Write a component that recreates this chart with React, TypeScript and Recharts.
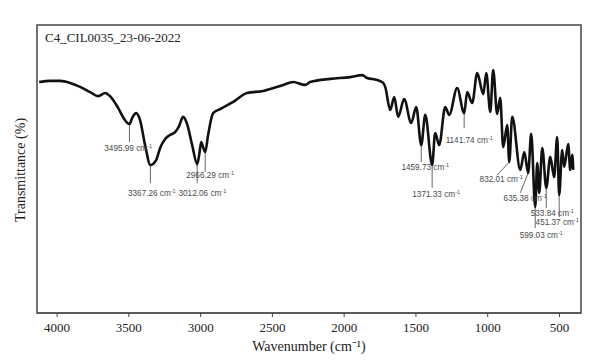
import React from 'react'
import { ComposedChart, Line, Scatter, XAxis, YAxis, ReferenceLine, ReferenceArea } from 'recharts'

// spectrum (wavenumber cm-1, transmittance %)
const wavenumbers = [
  4125, 4049, 3979, 3909, 3840, 3770, 3714, 3665, 3631, 3575, 3533, 3496, 3477, 3449, 3422, 3387,
  3350, 3310, 3282, 3247, 3213, 3178, 3150, 3122, 3094, 3059, 3024, 3010, 2996, 2983, 2968, 2948,
  2913, 2864, 2773, 2677, 2564, 2425, 2355, 2272, 2237, 2097, 1958, 1874, 1840, 1770, 1728, 1714,
  1679, 1651, 1624, 1582, 1533, 1498, 1463, 1435, 1387, 1366, 1338, 1296, 1268, 1213, 1164, 1143,
  1108, 1073, 1031, 1010, 982, 962, 934, 913, 892, 864, 850, 829, 773, 745, 718, 697,
  669, 655, 641, 620, 592, 564, 537, 516, 502, 481, 467, 439, 425, 411, 404,
]
const transmittance = [
  80.2, 80.6, 80.6, 79.9, 78.5, 76.7, 75.3, 76.4, 75.3, 71.2, 67.4, 65.6, 67.7, 69.4, 67.0, 58.3,
  51.4, 53.1, 57.3, 60.4, 61.8, 62.8, 64.9, 68.1, 65.6, 58.3, 51.7, 54.9, 59.4, 57.6, 55.9, 61.8,
  69.4, 70.8, 73.3, 76.4, 77.1, 79.2, 80.2, 79.2, 80.2, 81.3, 81.9, 82.6, 81.6, 80.9, 79.9, 78.5,
  70.5, 75.0, 68.1, 74.3, 66.0, 71.5, 58.3, 68.8, 51.4, 62.5, 58.3, 71.5, 68.8, 78.1, 69.4, 76.7,
  72.9, 83.3, 76.0, 83.3, 69.8, 84.4, 69.1, 74.7, 57.6, 65.3, 52.4, 68.1, 49.7, 55.9, 48.6, 62.2,
  36.8, 52.1, 41.7, 57.3, 43.4, 54.2, 47.2, 61.1, 41.0, 56.6, 50.7, 58.7, 49.7, 54.9, 49.7,
]

const ticks = [4000, 3500, 3000, 2500, 2000, 1500, 1000, 500]

// peak annotations
const peakNames = ['3495.99', '3367.26', '3012.06', '2966.29', '1459.73', '1371.33', '1141.74', '832.01', '635.38', '599.03', '533.84', '451.37']
const peakW = [3496, 3350, 3024, 2968, 1463, 1387, 1164, 850, 718, 669, 592, 502]
const peakT = [65.6, 51.4, 51.7, 55.9, 58.3, 51.4, 69.4, 52.4, 48.6, 36.8, 43.4, 41.0]
const leaderW = [3496, 3350, 3024, 2968, 1463, 1387, 1164, 934, 773, 669, 592, 502]
const leaderT = [59.4, 45.1, 45.1, 49.0, 52.4, 43.4, 64.2, 47.9, 41.7, 29.5, 36.5, 33.3]
const labelW = [3505, 3340, 2988, 2934, 1435, 1359, 1129, 906, 739, 627, 550, 516]
const labelT = [57.3, 41.7, 41.7, 47.9, 50.7, 41.3, 60.1, 46.5, 39.9, 27.1, 34.6, 31.4]

const spectrum = wavenumbers.map((w, i) => ({ w, t: transmittance[i] }))
const labels = peakNames.map((name, i) => ({ w: labelW[i], t: labelT[i], name }))

const PeakText = (props: any) => {
  const { cx, cy, payload } = props
  return (
    <text x={cx} y={cy} dy="0.35em" textAnchor="middle" fontFamily="'Liberation Sans', Arial, sans-serif" fontSize={8.2} fill="#4a4a4a">
      {payload.name} cm<tspan fontSize={5.5} dy={-3}>-1</tspan>
    </text>
  )
}

const serif = "'Liberation Serif', 'Times New Roman', serif"

export default function App() {
  return (
    <ComposedChart width={592} height={347} data={spectrum} margin={{ top: 17, right: 19, left: 29, bottom: 12 }}>
      <XAxis
        dataKey="w"
        type="number"
        domain={[350, 4140]}
        reversed
        ticks={ticks}
        allowDataOverflow
        height={30}
        tickSize={4}
        tickMargin={6}
        stroke="#444"
        tick={{ fill: '#222', fontFamily: serif, fontSize: 13 }}
        label={{ value: 'Wavenumber (cm⁻¹)', position: 'bottom', offset: -2, fill: '#222', fontFamily: serif, fontSize: 14 }}
      />
      <YAxis type="number" domain={[0, 100]} hide />
      <ReferenceArea x1={350} x2={4140} y1={0} y2={100} fill="none" stroke="#444" strokeWidth={1.5} ifOverflow="extendDomain" />
      {peakNames.map((n, i) => (
        <ReferenceLine
          key={n}
          segment={[{ x: peakW[i], y: peakT[i] }, { x: leaderW[i], y: leaderT[i] }]}
          stroke="#666"
          strokeWidth={1}
        />
      ))}
      <Line type="monotone" dataKey="t" stroke="#111" strokeWidth={2.6} dot={false} isAnimationActive={false} />
      <Scatter data={labels} dataKey="t" shape={<PeakText />} isAnimationActive={false} />
      <text x={37} y={29} dy="0.35em" fontFamily={serif} fontSize={13} fill="#222">C4_CIL0035_23-06-2022</text>
      <text x={12} y={162} transform="rotate(-90 12 162)" dy="0.35em" textAnchor="middle" fontFamily={serif} fontSize={14} fill="#222">Transmittance (%)</text>
    </ComposedChart>
  )
}
